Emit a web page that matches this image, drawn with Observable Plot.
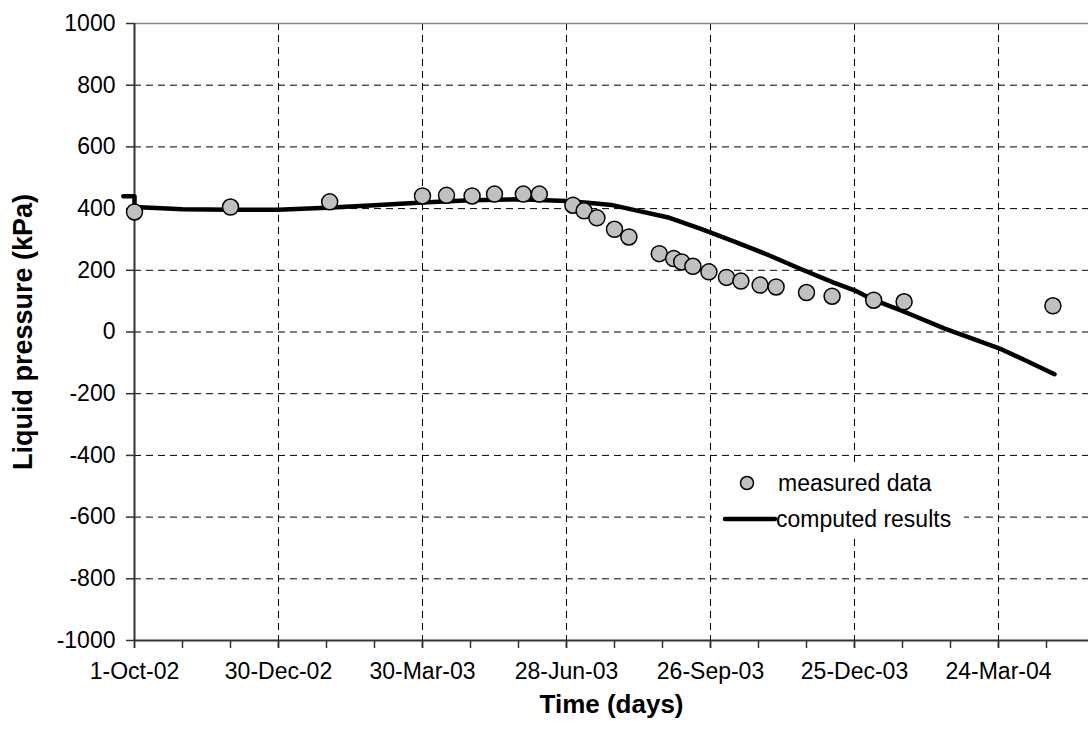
<!DOCTYPE html>
<html>
<head>
<meta charset="utf-8">
<script src="https://cdn.jsdelivr.net/npm/d3@7"></script>
<script src="https://cdn.jsdelivr.net/npm/@observablehq/plot@0.6"></script>
<style>
  body { margin: 0; background: #fff; }
  #chart { position: relative; width: 1088px; height: 740px; }
  #chart svg { font-family: "Liberation Sans", Arial, sans-serif; overflow: visible; }
</style>
</head>
<body>
<div id="chart"></div>
<script>
// Measured liquid pressure (days after 1-Oct-02, kPa)
const measuredDay = [0, 60, 122, 180, 195, 211, 225, 243, 253, 274, 281, 289, 300, 309, 328, 337, 342, 349, 359, 370, 379, 391, 401, 420, 436, 462, 481, 574];
const measuredKPa = [389, 405, 422, 441, 443, 441, 447, 447, 447, 411, 393, 370, 333, 308, 254, 238, 227, 213, 195, 177, 165, 152, 146, 128, 116, 103, 98, 85];

// Computed liquid pressure (days after 1-Oct-02, kPa)
const computedDay = [-7, 0, 0, 30, 60, 90, 120, 150, 180, 210, 240, 270, 285, 298, 312, 333, 354, 375, 395, 416, 437, 450, 462, 479, 486, 506, 540, 556, 575];
const computedKPa = [440, 440, 405, 398, 396, 396, 403, 411, 420, 427, 430, 425, 418, 412, 396, 372, 334, 293, 252, 205, 160, 135, 104, 70, 55, 12, -52, -90, -137];

// Axis ticks
const xTickDay = [0, 90, 180, 270, 360, 450, 540];
const xTickLabel = ["1-Oct-02", "30-Dec-02", "30-Mar-03", "28-Jun-03", "26-Sep-03", "25-Dec-03", "24-Mar-04"];
const xMinorDay = [0, 30, 60, 90, 120, 150, 180, 210, 240, 270, 300, 330, 360, 390, 420, 450, 480, 510, 540, 570];
const yTicks = [-1000, -800, -600, -400, -200, 0, 200, 400, 600, 800, 1000];
const yGrid = [-800, -600, -400, -200, 0, 200, 400, 600, 800];

const measured = measuredDay.map((d, i) => ({day: d, kpa: measuredKPa[i]}));
const computed = computedDay.map((d, i) => ({day: d, kpa: computedKPa[i]}));

const axisColor = "#333";
const gridDash = "7,5";

const chart = Plot.plot({
  width: 1088,
  height: 740,
  marginLeft: 134,
  marginRight: 0,
  marginTop: 23,
  marginBottom: 100,
  x: {domain: [0, 596.25], label: null},
  y: {domain: [-1000, 1000], label: null},
  style: {fontFamily: "Liberation Sans, Arial, sans-serif", color: "#000", background: "#fff"},
  marks: [
    // dashed grid
    Plot.ruleY(yGrid, {stroke: "#000", strokeWidth: 1, strokeDasharray: gridDash}),
    Plot.ruleX(xTickDay.slice(1), {stroke: "#000", strokeWidth: 1, strokeDasharray: gridDash}),
    // frame
    Plot.ruleY([1000], {stroke: "#888", strokeWidth: 1.5}),
    Plot.ruleX([0], {stroke: axisColor, strokeWidth: 2}),
    Plot.ruleY([-1000], {stroke: axisColor, strokeWidth: 2}),
    // axes
    Plot.axisX(xMinorDay, {tickSize: 8, text: null, stroke: axisColor, strokeWidth: 1.5}),
    Plot.axisX(xTickDay, {
      tickSize: 8, tickPadding: 14, stroke: axisColor, strokeWidth: 1.5,
      fontSize: 23, tickFormat: d => xTickLabel[xTickDay.indexOf(d)]
    }),
    Plot.axisY(yTicks, {
      tickSize: 8, tickPadding: 11, stroke: axisColor, strokeWidth: 1.5,
      fontSize: 23, tickFormat: d => String(d)
    }),
    // axis titles
    Plot.text(["Time (days)"], {frameAnchor: "bottom", dy: 72, fontSize: 26, fontWeight: "bold"}),
    Plot.text(["Liquid pressure (kPa)"], {
      frameAnchor: "left", textAnchor: "middle", dx: -111, rotate: -90, fontSize: 27, fontWeight: "bold"
    }),
    // series
    Plot.line(computed, {x: "day", y: "kpa", stroke: "#000", strokeWidth: 4.5, clip: false}),
    Plot.dot(measured, {x: "day", y: "kpa", r: 8, fill: "#c0c0c0", stroke: "#000", strokeWidth: 1.5})
  ]
});

// Legend box on top of the grid
const svg = d3.select(chart);
const lg = svg.append("g").attr("font-size", 23).attr("fill", "#000").attr("text-anchor", "start");
lg.append("rect").attr("x", 712).attr("y", 463).attr("width", 252).attr("height", 74).attr("fill", "#fff");
lg.append("circle").attr("cx", 747).attr("cy", 483).attr("r", 6.5)
  .attr("fill", "#c0c0c0").attr("stroke", "#000").attr("stroke-width", 1.5);
lg.append("text").attr("x", 778).attr("y", 483).attr("dy", "0.35em").text("measured data");
lg.append("line").attr("x1", 725).attr("x2", 775).attr("y1", 519).attr("y2", 519)
  .attr("stroke", "#000").attr("stroke-width", 4.5).attr("stroke-linecap", "round");
lg.append("text").attr("x", 776).attr("y", 519).attr("dy", "0.35em").text("computed results");

document.getElementById("chart").appendChild(chart);
</script>
</body>
</html>
